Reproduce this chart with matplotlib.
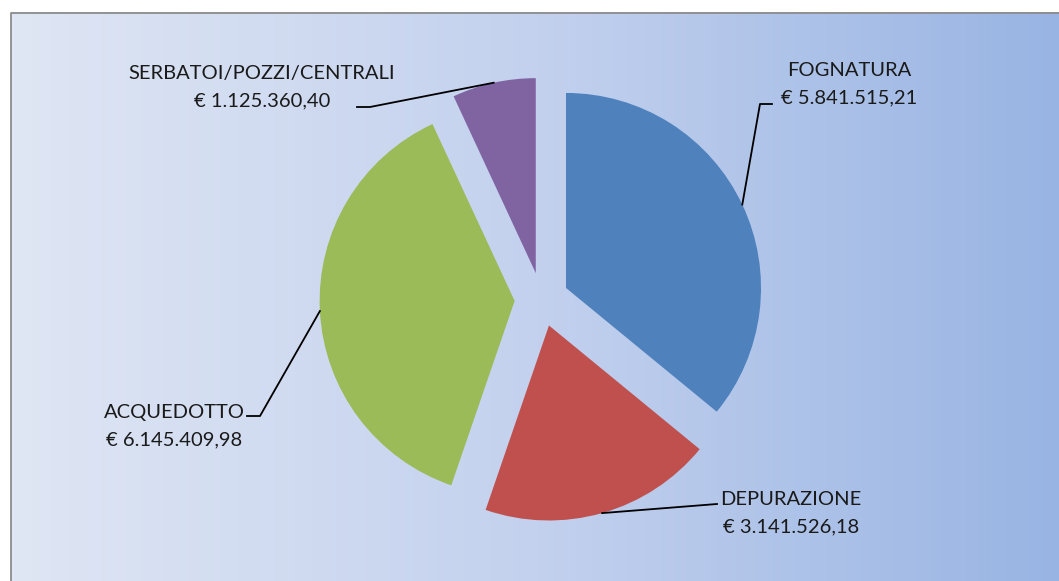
import numpy as np
import matplotlib.pyplot as plt
from matplotlib.colors import LinearSegmentedColormap
import math

# data
categories = ["FOGNATURA", "DEPURAZIONE", "ACQUEDOTTO", "SERBATOI/POZZI/CENTRALI"]
values = [5841515.21, 3141526.18, 6145409.98, 1125360.40]
value_labels = ["€ 5.841.515,21", "€ 3.141.526,18", "€ 6.145.409,98", "€ 1.125.360,40"]
colors = ["#4F81BD", "#C0504D", "#9BBB59", "#8064A2"]

W, H = 1059, 581
fig = plt.figure(figsize=(W / 100, H / 100), dpi=100)
fig.patch.set_facecolor("white")
ax = fig.add_axes([0, 0, 1, 1])

# gradient background inside border
grad = LinearSegmentedColormap.from_list("bg", ["#dfe6f4", "#c3d1ee", "#98b4e3"])
ax.imshow(np.linspace(0, 1, 256).reshape(1, -1), cmap=grad, aspect="auto",
          extent=[10.5, W + 5, -5, 568.5], zorder=0)
ax.plot([10.5, 10.5, W + 5], [-5, 568.5, 568.5], color="#8c8c8c", lw=1.3, zorder=1)

cx, cy, r, expl = 541.6, 281.5, 195, 27
wedges, _ = ax.pie(values, colors=colors, startangle=90, counterclock=False,
                   center=(cx, cy), radius=r, explode=[expl] * 4,
                   wedgeprops=dict(linewidth=0, zorder=2), frame=True)

# label centre (x, y) and leader elbow
label_pos = [(849, 497), (791, 68), (174, 155), (262, 494)]
elbows = [(772, 477, 760), (717, 77, None), (247, 165, 260), (357, 474, 370)]
fs = 14.5
for w, cat, val, (lx, ly), el in zip(wedges, categories, value_labels, label_pos, elbows):
    ax.text(lx, ly, cat + "\n" + val, ha="center", va="center", fontsize=fs,
            family=["Lato", "DejaVu Sans"], color="#1a1a1a", linespacing=1.72, zorder=4)
    tm = math.radians((w.theta1 + w.theta2) / 2)
    px = w.center[0] + w.r * math.cos(tm)
    py = w.center[1] + w.r * math.sin(tm)
    x0, y0, x1 = el
    if x1 is None:
        ax.plot([x0, px], [y0, py], color="black", lw=1.3, zorder=3)
    else:
        ax.plot([x0, x1, px], [y0, y0, py], color="black", lw=1.3, zorder=3)

ax.set_xlim(0, W)
ax.set_ylim(0, H)
ax.set_aspect("auto")
ax.axis("off")

plt.savefig("out.png", dpi=100)
plt.close()
